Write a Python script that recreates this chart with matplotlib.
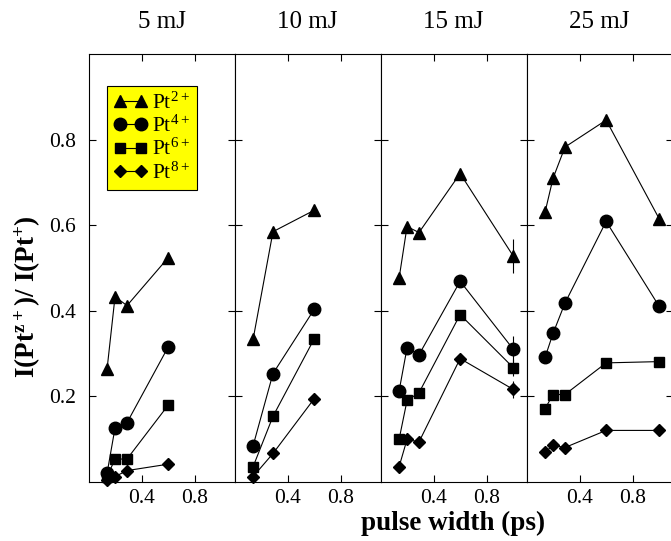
import numpy as np
import matplotlib
matplotlib.use("Agg")
import matplotlib.pyplot as plt

plt.rcParams['font.family'] = ['Liberation Serif', 'DejaVu Serif']
plt.rcParams['mathtext.fontset'] = 'custom'
plt.rcParams['mathtext.rm'] = 'Liberation Serif'
plt.rcParams['mathtext.bf'] = 'Liberation Serif:bold'
plt.rcParams['mathtext.default'] = 'regular'

# laser energies (panel titles)
energies = ["5 mJ", "10 mJ", "15 mJ", "25 mJ"]
ions = ["Pt$^{2+}$", "Pt$^{4+}$", "Pt$^{6+}$", "Pt$^{8+}$"]

# pulse widths (ps) for each panel
widths_5 = [0.14, 0.2, 0.29, 0.6]
widths_10 = [0.14, 0.29, 0.6]
widths_15 = [0.14, 0.2, 0.29, 0.6, 1.0]
widths_25 = [0.14, 0.2, 0.29, 0.6, 1.0]

# ratio I(Pt^z+)/I(Pt^+), rows: Pt2+, Pt4+, Pt6+, Pt8+
ratio_5 = [[0.264, 0.433, 0.412, 0.524],
           [0.020, 0.126, 0.138, 0.315],
           [0.012, 0.053, 0.053, 0.179],
           [0.003, 0.012, 0.026, 0.041]]
ratio_10 = [[0.333, 0.585, 0.635],
            [0.084, 0.253, 0.403],
            [0.035, 0.153, 0.334],
            [0.012, 0.066, 0.194]]
ratio_15 = [[0.476, 0.597, 0.583, 0.721, 0.528],
            [0.212, 0.313, 0.297, 0.469, 0.310],
            [0.099, 0.190, 0.208, 0.391, 0.267],
            [0.035, 0.099, 0.093, 0.288, 0.216]]
ratio_25 = [[0.631, 0.710, 0.783, 0.846, 0.615],
            [0.291, 0.347, 0.418, 0.609, 0.410],
            [0.171, 0.204, 0.204, 0.278, 0.281],
            [0.069, 0.085, 0.080, 0.120, 0.120]]

# error bars, only on the 1 ps point at 15 mJ
err_15 = [[0, 0, 0, 0, 0.04],
          [0, 0, 0, 0, 0.03],
          [0, 0, 0, 0, 0.02],
          [0, 0, 0, 0, 0.02]]

widths = [widths_5, widths_10, widths_15, widths_25]
ratios = [ratio_5, ratio_10, ratio_15, ratio_25]
errors = [None, None, err_15, None]

markers = ['^', 'o', 's', 'D']
msizes = [9, 9, 7, 6.5]

fig = plt.figure(figsize=(6.71, 5.41), dpi=100)

left, bottom = 88.5 / 671, 1 - 481.7 / 541
pw, ph = 146 / 671, 427.4 / 541

axes = []
for i in range(4):
    ax = fig.add_axes([left + i * pw, bottom, pw, ph])
    axes.append(ax)
    for j in range(4):
        x = widths[i]
        y = ratios[i][j]
        ax.plot(x, y, color='black', lw=0.8, marker=markers[j],
                ms=msizes[j], mfc='black', mec='black', clip_on=False,
                label=ions[j], zorder=3)
        if errors[i] is not None:
            e = np.array(errors[i][j])
            m = e > 0
            ax.errorbar(np.array(x)[m], np.array(y)[m], yerr=e[m],
                        fmt='none', ecolor='black', elinewidth=0.8,
                        capsize=0, clip_on=False, zorder=2)
    ax.set_xlim(0, 1.1)
    ax.set_ylim(0, 1.0)
    ax.set_xticks([0.4, 0.8])
    ax.set_xticklabels(['0.4', '0.8'])
    ax.set_yticks([0.2, 0.4, 0.6, 0.8])
    ax.tick_params(direction='in', top=True, right=True, length=5,
                   width=0.8, labelsize=15.5)
    ax.tick_params(axis='x', pad=5)
    ax.tick_params(axis='y', pad=9)
    if i > 0:
        ax.set_yticklabels([])
    else:
        ax.set_yticklabels(['0.2', '0.4', '0.6', '0.8'])
    for s in ax.spines.values():
        s.set_linewidth(0.8)
    # panel title centred over the panel
    fig.text(left + (i + 0.5) * pw, 1 - 22 / 541, energies[i],
             fontsize=18, ha='center', va='center')

leg = axes[0].legend(loc='upper left', bbox_to_anchor=(0.127, 0.926),
                     numpoints=2, fontsize=15.5, frameon=True, fancybox=False,
                     facecolor='yellow', edgecolor='black', framealpha=1,
                     handlelength=1.6, handletextpad=0.2, labelspacing=0.1,
                     borderpad=0.3, borderaxespad=0)
leg.get_frame().set_linewidth(0.8)

fig.text(0.042, 1 - 297 / 541, "I(Pt$^{z+}$)/ I(Pt$^{+}$)", rotation=90,
         fontsize=19.5, fontweight='bold', ha='center', va='center')
fig.text(453 / 671, 1 - 523 / 541, "pulse width (ps)", fontsize=19.5,
         fontweight='bold', ha='center', va='center')

fig.savefig("out.png", dpi=100)
